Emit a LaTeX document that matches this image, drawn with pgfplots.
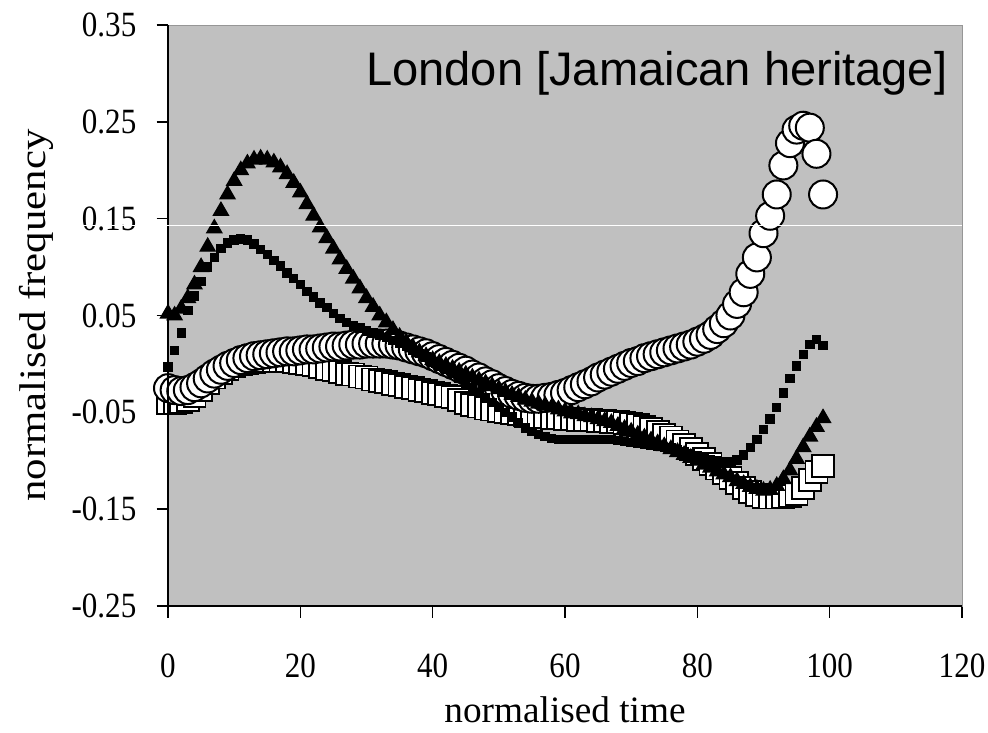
\documentclass[border=0pt]{standalone}
\usepackage{fontspec}
\setmainfont{Liberation Serif}
\newfontfamily\titlesans{Liberation Sans}
\newfontfamily\tickfont{Liberation Serif}[FakeStretch=0.875]
\newfontfamily\ylabfont{Liberation Serif}[FakeStretch=1.15]
\usepackage{pgfplots}
\usepackage{pgfplotstable}
\pgfplotsset{compat=1.18}
\definecolor{plotbg}{HTML}{C0C0C0}
\definecolor{framegray}{HTML}{969696}

\pgfplotstableread{
x a b c d
0 -0.025 -0.040 -0.003 0.052
1 -0.027 -0.040 0.014 0.050
2 -0.028 -0.039 0.032 0.057
3 -0.027 -0.037 0.055 0.068
4 -0.024 -0.033 0.070 0.082
5 -0.020 -0.027 0.085 0.100
6 -0.015 -0.020 0.100 0.121
7 -0.010 -0.014 0.110 0.140
8 -0.006 -0.009 0.119 0.158
9 -0.002 -0.005 0.125 0.175
10 0.001 -0.002 0.128 0.189
11 0.004 0.000 0.129 0.200
12 0.006 0.001 0.128 0.207
13 0.008 0.002 0.124 0.211
14 0.009 0.003 0.118 0.212
15 0.010 0.003 0.113 0.211
16 0.011 0.003 0.107 0.208
17 0.012 0.003 0.101 0.203
18 0.013 0.003 0.094 0.196
19 0.013 0.002 0.088 0.187
20 0.014 0.001 0.082 0.177
21 0.015 0.000 0.075 0.165
22 0.015 -0.001 0.069 0.153
23 0.016 -0.003 0.063 0.141
24 0.017 -0.005 0.058 0.130
25 0.018 -0.006 0.052 0.119
26 0.018 -0.008 0.047 0.108
27 0.019 -0.010 0.043 0.098
28 0.020 -0.011 0.040 0.088
29 0.020 -0.013 0.037 0.078
30 0.021 -0.014 0.034 0.068
31 0.021 -0.016 0.032 0.059
32 0.021 -0.018 0.030 0.050
33 0.021 -0.019 0.027 0.043
34 0.020 -0.021 0.024 0.035
35 0.019 -0.022 0.021 0.028
36 0.017 -0.024 0.018 0.022
37 0.015 -0.025 0.014 0.017
38 0.013 -0.027 0.011 0.012
39 0.011 -0.028 0.007 0.008
40 0.008 -0.030 0.002 0.004
41 0.005 -0.031 -0.002 0.001
42 0.002 -0.033 -0.006 -0.002
43 -0.001 -0.034 -0.010 -0.005
44 -0.004 -0.037 -0.015 -0.008
45 -0.007 -0.040 -0.020 -0.011
46 -0.011 -0.042 -0.025 -0.014
47 -0.014 -0.044 -0.030 -0.017
48 -0.018 -0.046 -0.035 -0.020
49 -0.021 -0.047 -0.040 -0.023
50 -0.025 -0.049 -0.045 -0.026
51 -0.028 -0.050 -0.050 -0.029
52 -0.031 -0.051 -0.055 -0.032
53 -0.033 -0.052 -0.061 -0.034
54 -0.035 -0.053 -0.066 -0.037
55 -0.036 -0.054 -0.070 -0.039
56 -0.036 -0.055 -0.073 -0.041
57 -0.035 -0.055 -0.075 -0.043
58 -0.034 -0.056 -0.077 -0.045
59 -0.032 -0.056 -0.078 -0.047
60 -0.030 -0.057 -0.078 -0.049
61 -0.027 -0.057 -0.078 -0.051
62 -0.024 -0.058 -0.078 -0.052
63 -0.021 -0.058 -0.078 -0.054
64 -0.018 -0.058 -0.078 -0.055
65 -0.014 -0.059 -0.078 -0.057
66 -0.011 -0.059 -0.078 -0.059
67 -0.008 -0.060 -0.078 -0.061
68 -0.005 -0.060 -0.079 -0.064
69 -0.002 -0.061 -0.080 -0.067
70 0.001 -0.062 -0.081 -0.070
71 0.003 -0.063 -0.082 -0.073
72 0.006 -0.065 -0.083 -0.076
73 0.008 -0.067 -0.084 -0.079
74 0.010 -0.070 -0.085 -0.082
75 0.012 -0.073 -0.086 -0.085
76 0.014 -0.076 -0.087 -0.088
77 0.016 -0.080 -0.089 -0.091
78 0.018 -0.084 -0.091 -0.094
79 0.020 -0.088 -0.093 -0.097
80 0.023 -0.093 -0.095 -0.100
81 0.026 -0.098 -0.097 -0.104
82 0.030 -0.103 -0.099 -0.107
83 0.036 -0.108 -0.100 -0.111
84 0.042 -0.113 -0.101 -0.114
85 0.050 -0.118 -0.101 -0.117
86 0.062 -0.123 -0.099 -0.121
87 0.074 -0.128 -0.094 -0.124
88 0.093 -0.132 -0.086 -0.127
89 0.110 -0.135 -0.078 -0.129
90 0.135 -0.137 -0.068 -0.131
91 0.153 -0.138 -0.057 -0.130
92 0.175 -0.138 -0.045 -0.126
93 0.205 -0.137 -0.030 -0.119
94 0.228 -0.136 -0.015 -0.110
95 0.242 -0.134 -0.002 -0.098
96 0.246 -0.128 0.010 -0.086
97 0.244 -0.120 0.020 -0.075
98 0.217 -0.112 0.025 -0.065
99 0.175 -0.105 0.019 -0.056
}\datatable

\begin{document}
\begin{tikzpicture}
\begin{axis}[
  at={(0,0)}, anchor=south west,
  scale only axis, width=79.4mm, height=58.1mm,
  xmin=0, xmax=120, ymin=-0.25, ymax=0.35,
  clip=false,
  axis background/.style={fill=plotbg},
  axis line style={draw=framegray, line width=0.1mm},
  xtick={0,20,40,60,80,100,120},
  xticklabels={0,20,40,60,80,100,120},
  ytick={-0.25,-0.15,-0.05,0.05,0.15,0.25,0.35},
  yticklabels={-0.25,-0.15,-0.05,0.05,0.15,0.25,0.35},
  xtick pos=bottom, ytick pos=left,
  tick align=outside,
  major tick length=1.15mm,
  major tick style={black, line width=0.15mm},
  xticklabel style={font=\tickfont\fontsize{10.1pt}{12pt}\selectfont, anchor=north, inner sep=0pt, yshift=-3.55mm},
  yticklabel style={font=\tickfont\fontsize{10.1pt}{12pt}\selectfont, anchor=east, inner sep=0pt, xshift=-1.95mm},
  xlabel={normalised time},
  ylabel={normalised frequency},
  xlabel style={font=\fontsize{10.6pt}{13pt}\selectfont, at={(axis description cs:0.5,0)}, anchor=base, inner sep=0pt, yshift=-11.6mm},
  ylabel style={font=\ylabfont\fontsize{10.6pt}{13pt}\selectfont, at={(axis description cs:-0.1656,0.5)}, anchor=center, inner sep=0pt},
  after end axis/.code={
    \draw[black, line width=0.2mm] (rel axis cs:0,1) -- (rel axis cs:0,0) -- (rel axis cs:1,0);
    \draw[white, line width=0.1mm] (axis cs:-13.3,0.143) -- (axis cs:120,0.143);
  },
]
\addplot[only marks, mark=square*, mark size=1.1mm, mark options={draw=black, fill=white, line width=0.18mm}] table[x=x, y=b] {\datatable};
\addplot[only marks, mark=*, mark size=1.4mm, mark options={draw=black, fill=white, line width=0.2mm}] table[x=x, y=a] {\datatable};
\addplot[only marks, mark=triangle*, mark size=0.85mm, mark options={draw=black, fill=black}] table[x=x, y=d] {\datatable};
\addplot[only marks, mark=square*, mark size=0.4mm, mark options={draw=black, fill=black}] table[x=x, y=c] {\datatable};
\node[anchor=base east, inner sep=0pt, font=\titlesans\fontsize{13.4pt}{15pt}\selectfont] at (axis cs:117.9,0.288) {London [Jamaican heritage]};
\end{axis}
\pgfresetboundingbox
\path (-16.8mm,-12.6mm) rectangle (82.0mm,60.6mm);
\end{tikzpicture}
\end{document}
